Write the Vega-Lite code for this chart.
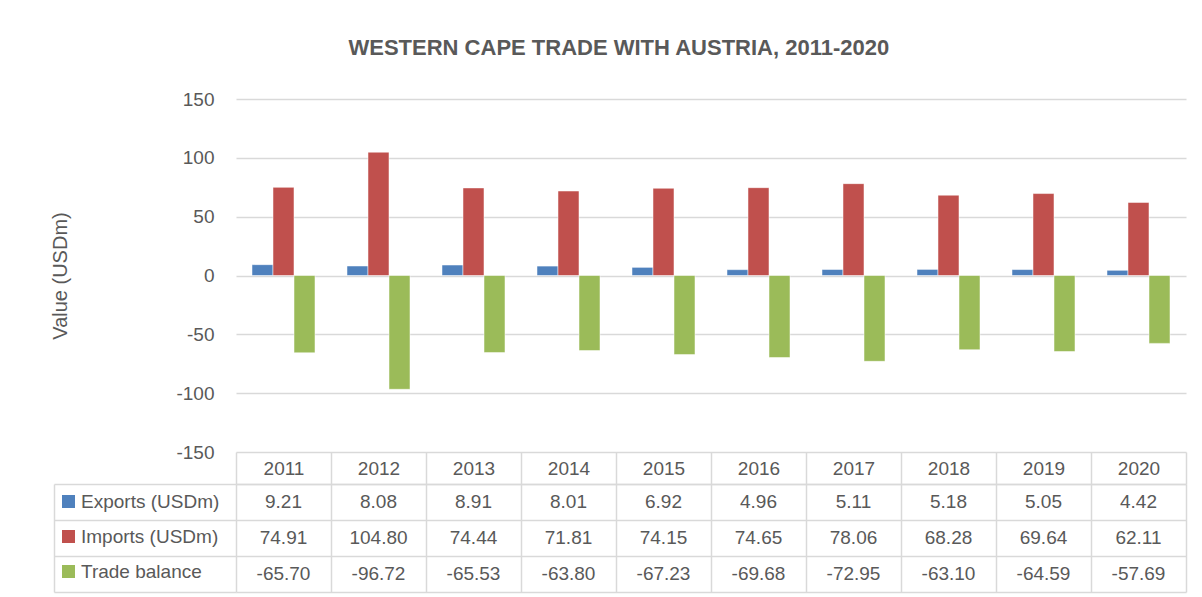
{
  "$schema": "https://vega.github.io/schema/vega-lite/v6.json",
  "background": "white",
  "padding": {"left": 50, "top": 37, "right": 6, "bottom": 4},
  "title": {"text": "WESTERN CAPE TRADE WITH AUSTRIA, 2011-2020", "font": "Liberation Sans", "fontSize": 22, "fontWeight": "bold", "color": "#595959", "anchor": "middle", "offset": 30},
  "config": {"font": "Liberation Sans", "locale": {"number": {"decimal": ".", "thousands": ",", "grouping": [3], "currency": ["$", ""], "minus": "-"}}, "view": {"stroke": null}, "axis": {"labelFont": "Liberation Sans", "titleFont": "Liberation Sans", "labelColor": "#595959", "titleColor": "#595959"}},
  "data": {"values": [
    {"year": "2011", "series": "Exports (USDm)", "value": 9.21},
    {"year": "2012", "series": "Exports (USDm)", "value": 8.08},
    {"year": "2013", "series": "Exports (USDm)", "value": 8.91},
    {"year": "2014", "series": "Exports (USDm)", "value": 8.01},
    {"year": "2015", "series": "Exports (USDm)", "value": 6.92},
    {"year": "2016", "series": "Exports (USDm)", "value": 4.96},
    {"year": "2017", "series": "Exports (USDm)", "value": 5.11},
    {"year": "2018", "series": "Exports (USDm)", "value": 5.18},
    {"year": "2019", "series": "Exports (USDm)", "value": 5.05},
    {"year": "2020", "series": "Exports (USDm)", "value": 4.42},
    {"year": "2011", "series": "Imports (USDm)", "value": 74.91},
    {"year": "2012", "series": "Imports (USDm)", "value": 104.80},
    {"year": "2013", "series": "Imports (USDm)", "value": 74.44},
    {"year": "2014", "series": "Imports (USDm)", "value": 71.81},
    {"year": "2015", "series": "Imports (USDm)", "value": 74.15},
    {"year": "2016", "series": "Imports (USDm)", "value": 74.65},
    {"year": "2017", "series": "Imports (USDm)", "value": 78.06},
    {"year": "2018", "series": "Imports (USDm)", "value": 68.28},
    {"year": "2019", "series": "Imports (USDm)", "value": 69.64},
    {"year": "2020", "series": "Imports (USDm)", "value": 62.11},
    {"year": "2011", "series": "Trade balance", "value": -65.70},
    {"year": "2012", "series": "Trade balance", "value": -96.72},
    {"year": "2013", "series": "Trade balance", "value": -65.53},
    {"year": "2014", "series": "Trade balance", "value": -63.80},
    {"year": "2015", "series": "Trade balance", "value": -67.23},
    {"year": "2016", "series": "Trade balance", "value": -69.68},
    {"year": "2017", "series": "Trade balance", "value": -72.95},
    {"year": "2018", "series": "Trade balance", "value": -63.10},
    {"year": "2019", "series": "Trade balance", "value": -64.59},
    {"year": "2020", "series": "Trade balance", "value": -57.69}
  ]},
  "bounds": "flush",
  "spacing": 32,
  "resolve": {"scale": {"x": "independent", "y": "independent", "color": "independent"}, "legend": {"color": "independent"}},
  "vconcat": [
    {
      "width": 950,
      "height": 353,
      "mark": {"type": "bar", "strokeWidth": 1, "strokeOpacity": 0.5, "stroke": "white"},
      "encoding": {
        "x": {"field": "year", "type": "nominal", "axis": null, "scale": {"paddingInner": 0.3368, "paddingOuter": 0.1684}},
        "xOffset": {"field": "series", "type": "nominal", "sort": ["Exports (USDm)", "Imports (USDm)", "Trade balance"], "scale": {"paddingInner": 0, "paddingOuter": 0}},
        "y": {"field": "value", "type": "quantitative", "scale": {"domain": [-150, 150], "nice": false}, "axis": {"values": [-150, -100, -50, 0, 50, 100, 150], "title": "Value (USDm)", "titleFontSize": 20, "titleFontWeight": "normal", "titlePadding": 105, "labelFontSize": 19, "labelPadding": 22, "ticks": false, "domain": false, "grid": true, "gridColor": "#D9D9D9", "gridWidth": 1.5}},
        "color": {"field": "series", "type": "nominal", "sort": ["Exports (USDm)", "Imports (USDm)", "Trade balance"], "scale": {"domain": ["Exports (USDm)", "Imports (USDm)", "Trade balance"], "range": ["#4F81BD", "#C0504D", "#9BBB59"]}, "legend": null}
      }
    },
    {
      "width": 950,
      "height": 108,
      "encoding": {
        "x": {"field": "year", "type": "nominal", "scale": {"paddingInner": 0, "paddingOuter": 0}, "axis": {"orient": "top", "title": null, "labelAngle": 0, "labelFontSize": 19, "labelBaseline": "middle", "labelPadding": -16, "tickBand": "extent", "tickSize": 32, "tickColor": "#D9D9D9", "tickWidth": 1.5, "domainColor": "#D9D9D9", "domainWidth": 1.5, "grid": true, "gridColor": "#D9D9D9", "gridWidth": 1.5}},
        "y": {"field": "series", "type": "nominal", "sort": ["Exports (USDm)", "Imports (USDm)", "Trade balance"], "scale": {"paddingInner": 0, "paddingOuter": 0}, "axis": {"title": null, "labels": false, "offset": 182, "tickBand": "extent", "tickSize": -182, "tickColor": "#D9D9D9", "tickWidth": 1.5, "domainColor": "#D9D9D9", "domainWidth": 1.5, "grid": true, "gridColor": "#D9D9D9", "gridWidth": 1.5}}
      },
      "layer": [
        {
          "mark": {"type": "point", "shape": "square", "filled": true, "opacity": 0},
          "encoding": {
            "color": {"field": "series", "type": "nominal", "scale": {"domain": ["Exports (USDm)", "Imports (USDm)", "Trade balance"], "range": ["#4F81BD", "#C0504D", "#9BBB59"]}, "legend": {"orient": "none", "legendX": -177, "legendY": 8, "title": null, "symbolType": "square", "symbolSize": 169, "symbolOpacity": 1, "symbolStrokeWidth": 0, "labelFontSize": 19, "labelColor": "#595959", "labelFont": "Liberation Sans", "labelLimit": 300, "labelOffset": 3, "rowPadding": 15, "padding": 0}}
          }
        },
        {
          "mark": {"type": "text", "fontSize": 19, "color": "#595959", "font": "Liberation Sans"},
          "encoding": {
            "text": {"field": "value", "type": "quantitative", "format": ".2f"}
          }
        }
      ]
    }
  ]
}
